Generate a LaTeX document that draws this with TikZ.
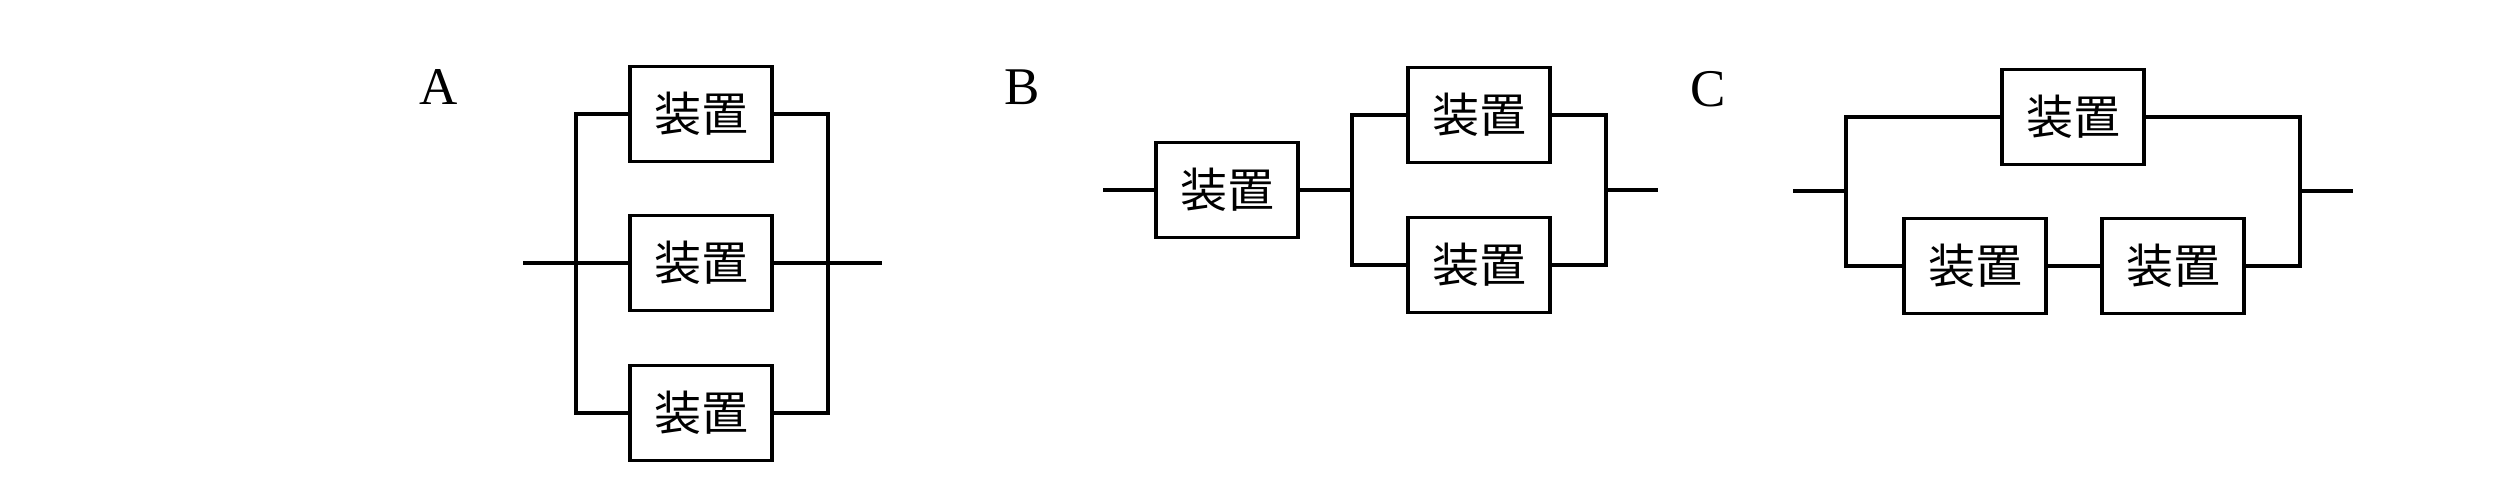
\documentclass[tikz,border=0pt]{standalone}
\usepackage{fontspec}
\setmainfont{Liberation Serif}
\newfontfamily\jp{Noto Sans CJK JP}
\begin{document}
\begin{tikzpicture}[x=1pt,y=-1pt,
  dev/.style={draw, line width=3.4pt, minimum width=142pt, minimum height=95pt, inner sep=0pt, font=\jp\fontsize{47}{47}\selectfont},
  wire/.style={line width=3.4pt},
  lab/.style={font=\fontsize{53}{53}\selectfont, inner sep=0pt}]
\useasboundingbox (0,0) rectangle (2514,490);
% A
\node[lab] (la) at (439,87) {A};
\node[dev] (a1) at (701,114) {装置};
\node[dev] (a2) at (701,263) {装置};
\node[dev] (a3) at (701,413) {装置};
\coordinate (ain) at (523,263);
\coordinate (aL) at (576,263);
\coordinate (aR) at (828,263);
\coordinate (aout) at (882,263);
\draw[wire] (ain) -- (a2.west);
\draw[wire] (a2.east) -- (aout);
\draw[wire] (a1.west) -| (aL) |- (a3.west);
\draw[wire] (a1.east) -| (aR) |- (a3.east);
% B
\node[lab] (lb) at (1022,87) {B};
\node[dev] (b0) at (1227,190) {装置};
\node[dev] (b1) at (1479,115) {装置};
\node[dev] (b2) at (1479,265) {装置};
\coordinate (bin) at (1103,190);
\coordinate (bL) at (1352,190);
\coordinate (bR) at (1606,190);
\coordinate (bout) at (1658,190);
\draw[wire] (bin) -- (b0.west);
\draw[wire] (b0.east) -- (bL);
\draw[wire] (b1.west) -| (bL) |- (b2.west);
\draw[wire] (b1.east) -| (bR) |- (b2.east);
\draw[wire] (bR) -- (bout);
% C
\node[lab] (lc) at (1708,89) {C};
\node[dev] (c1) at (2073,117) {装置};
\node[dev] (c2) at (1975,266) {装置};
\node[dev] (c3) at (2173,266) {装置};
\coordinate (cin) at (1793,191);
\coordinate (cL) at (1846,191);
\coordinate (cR) at (2300,191);
\coordinate (cout) at (2353,191);
\draw[wire] (cin) -- (cL);
\draw[wire] (c1.west) -| (cL) |- (c2.west);
\draw[wire] (c2.east) -- (c3.west);
\draw[wire] (c1.east) -| (cR) |- (c3.east);
\draw[wire] (cR) -- (cout);
\end{tikzpicture}
\end{document}
